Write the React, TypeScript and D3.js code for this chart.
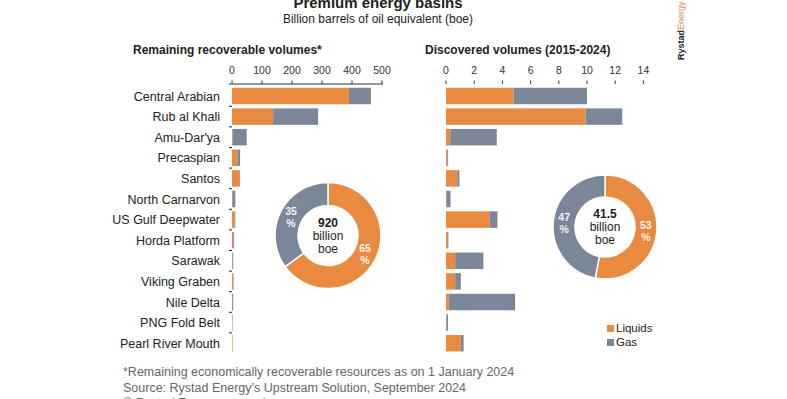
import * as d3 from 'd3';

const basins = [
  'Central Arabian', 'Rub al Khali', "Amu-Dar'ya", 'Precaspian', 'Santos',
  'North Carnarvon', 'US Gulf Deepwater', 'Horda Platform', 'Sarawak',
  'Viking Graben', 'Nile Delta', 'PNG Fold Belt', 'Pearl River Mouth',
];

// Remaining recoverable volumes, billion boe
const remainingLiquids = [390, 137, 2, 18, 26, 1, 9, 4, 1, 3, 0.5, 0.5, 2];
const remainingGas = [73, 150, 47, 9, 1, 10, 2, 3, 3, 2, 3.5, 1.5, 0.3];

// Discovered volumes 2015-2024, billion boe
const discoveredLiquids = [4.8, 9.9, 0.3, 0.1, 0.8, 0.02, 3.1, 0.15, 0.65, 0.65, 0.2, 0.02, 1.05];
const discoveredGas = [5.2, 2.6, 3.3, 0.05, 0.15, 0.3, 0.55, 0.02, 2.0, 0.4, 4.7, 0.12, 0.2];

const remainingTicks = [0, 100, 200, 300, 400, 500];
const discoveredTicks = [0, 2, 4, 6, 8, 10, 12, 14];

// donut shares, % [liquids, gas]
const remainingShare = [65, 35];
const discoveredShare = [53, 47];
const remainingTotal = '920';
const discoveredTotal = '41.5';

const ORANGE = '#E98A40';
const GRAY = '#7B8799';
const FONT = '"Liberation Sans", Arial, sans-serif';

const y = d3.scaleBand<string>()
  .domain(basins)
  .range([85.7, 353.5])
  .paddingInner(0.2)
  .paddingOuter(0.1);

function BarPanel({ liquids, gas, ticks, x, axisLine }: {
  liquids: number[]; gas: number[]; ticks: number[];
  x: d3.ScaleLinear<number, number>; axisLine: boolean;
}) {
  const [x0, x1] = x.range();
  return (
    <g>
      {axisLine && <line x1={x0 - 3} x2={x1 + 1} y1={84} y2={84} stroke="#333" strokeWidth={1} />}
      {ticks.map(t => (
        <g key={t}>
          <line x1={x(t)} x2={x(t)} y1={80.5} y2={84} stroke="#333" strokeWidth={1} />
          <text x={x(t)} y={74} textAnchor="middle" fontSize={10.5} fill="#333">{t}</text>
        </g>
      ))}
      {basins.map((b, i) => (
        <g key={b}>
          <rect x={x(0)} y={y(b)} width={x(liquids[i]) - x(0)} height={y.bandwidth()} fill={ORANGE} />
          <rect x={x(liquids[i])} y={y(b)} width={x(liquids[i] + gas[i]) - x(liquids[i])}
            height={y.bandwidth()} fill={GRAY} />
        </g>
      ))}
    </g>
  );
}

function Donut({ cx, cy, share, total, outer }: {
  cx: number; cy: number; share: number[]; total: string; outer: number;
}) {
  const inner = 30;
  const pie = d3.pie<number>().sort(null).value(d => d);
  const arc = d3.arc<d3.PieArcDatum<number>>().innerRadius(inner).outerRadius(outer);
  const arcs = pie(share);
  const mid = (inner + outer) / 2;
  return (
    <g transform={`translate(${cx},${cy})`}>
      {arcs.map((a, i) => (
        <path key={i} d={arc(a) || ''} fill={i === 0 ? ORANGE : GRAY} stroke="#fff" strokeWidth={1.5} />
      ))}
      {arcs.map((a, i) => {
        const ang = (a.startAngle + a.endAngle) / 2;
        const lx = mid * Math.sin(ang);
        const ly = -mid * Math.cos(ang);
        return (
          <text key={'l' + i} x={lx} y={ly} textAnchor="middle" fontSize={10.5} fill="#fff" fontWeight="bold" opacity={0.9}>
            <tspan x={lx} dy={-2}>{share[i]}</tspan>
            <tspan x={lx} dy={12}>%</tspan>
          </text>
        );
      })}
      <text textAnchor="middle" fontSize={12} fill="#222">
        <tspan x={0} y={-9} fontWeight="bold">{total}</tspan>
        <tspan x={0} y={4}>billion</tspan>
        <tspan x={0} y={17}>boe</tspan>
      </text>
    </g>
  );
}

export default function App() {
  const xLeft = d3.scaleLinear().domain([0, 500]).range([232, 382]);
  const xRight = d3.scaleLinear().domain([0, 14]).range([446, 643.4]);

  return (
    <div style={{ position: 'absolute', left: 0, top: 0 }}>
      <svg width={787} height={399} viewBox="0 0 787 399" style={{ display: 'block', fontFamily: FONT }}>
        <rect width={787} height={399} fill="#fff" />
        <text x={378} y={8} textAnchor="middle" fontSize={15} fontWeight="bold" fill="#222">Premium energy basins</text>
        <text x={378} y={22.5} textAnchor="middle" fontSize={12} fill="#222">Billion barrels of oil equivalent (boe)</text>

        <text x={133} y={54} fontSize={12} fontWeight="bold" fill="#222">Remaining recoverable volumes*</text>
        <text x={425} y={54} fontSize={12} fontWeight="bold" fill="#222">Discovered volumes (2015-2024)</text>

        {basins.map(b => (
          <text key={b} x={220} y={(y(b) ?? 0) + y.bandwidth() / 2 + 4.5} textAnchor="end" fontSize={12.5} fill="#222">{b}</text>
        ))}
        {basins.slice(1).map(b => (
          <line key={'t' + b} x1={229} x2={232} y1={(y(b) ?? 0) - y.step() * 0.1} y2={(y(b) ?? 0) - y.step() * 0.1}
            stroke="#222" strokeWidth={1} />
        ))}

        <BarPanel liquids={remainingLiquids} gas={remainingGas} ticks={remainingTicks} x={xLeft} axisLine />
        <BarPanel liquids={discoveredLiquids} gas={discoveredGas} ticks={discoveredTicks} x={xRight} axisLine={false} />

        <Donut cx={328} cy={235.5} share={remainingShare} total={remainingTotal} outer={53} />
        <Donut cx={605} cy={227} share={discoveredShare} total={discoveredTotal} outer={52} />

        <rect x={607} y={325} width={7} height={7} fill={ORANGE} />
        <text x={616} y={332} fontSize={11.5} fill="#222">Liquids</text>
        <rect x={607} y={339} width={7} height={7} fill={GRAY} />
        <text x={616} y={346} fontSize={11.5} fill="#222">Gas</text>

        <text x={123} y={375.5} fontSize={12.5} fill="#666">*Remaining economically recoverable resources as on 1 January 2024</text>
        <text x={123} y={391.5} fontSize={12.5} fill="#666">Source: Rystad Energy’s Upstream Solution, September 2024</text>
        <text x={123} y={407} fontSize={12.5} fill="#666">© Rystad Energy research</text>

        <text transform="translate(684,60) rotate(-90)" fontSize={9} fontWeight="bold" fill="#222">
          Rystad<tspan fill={ORANGE} fontWeight="normal">Energy</tspan>
        </text>
      </svg>
    </div>
  );
}
